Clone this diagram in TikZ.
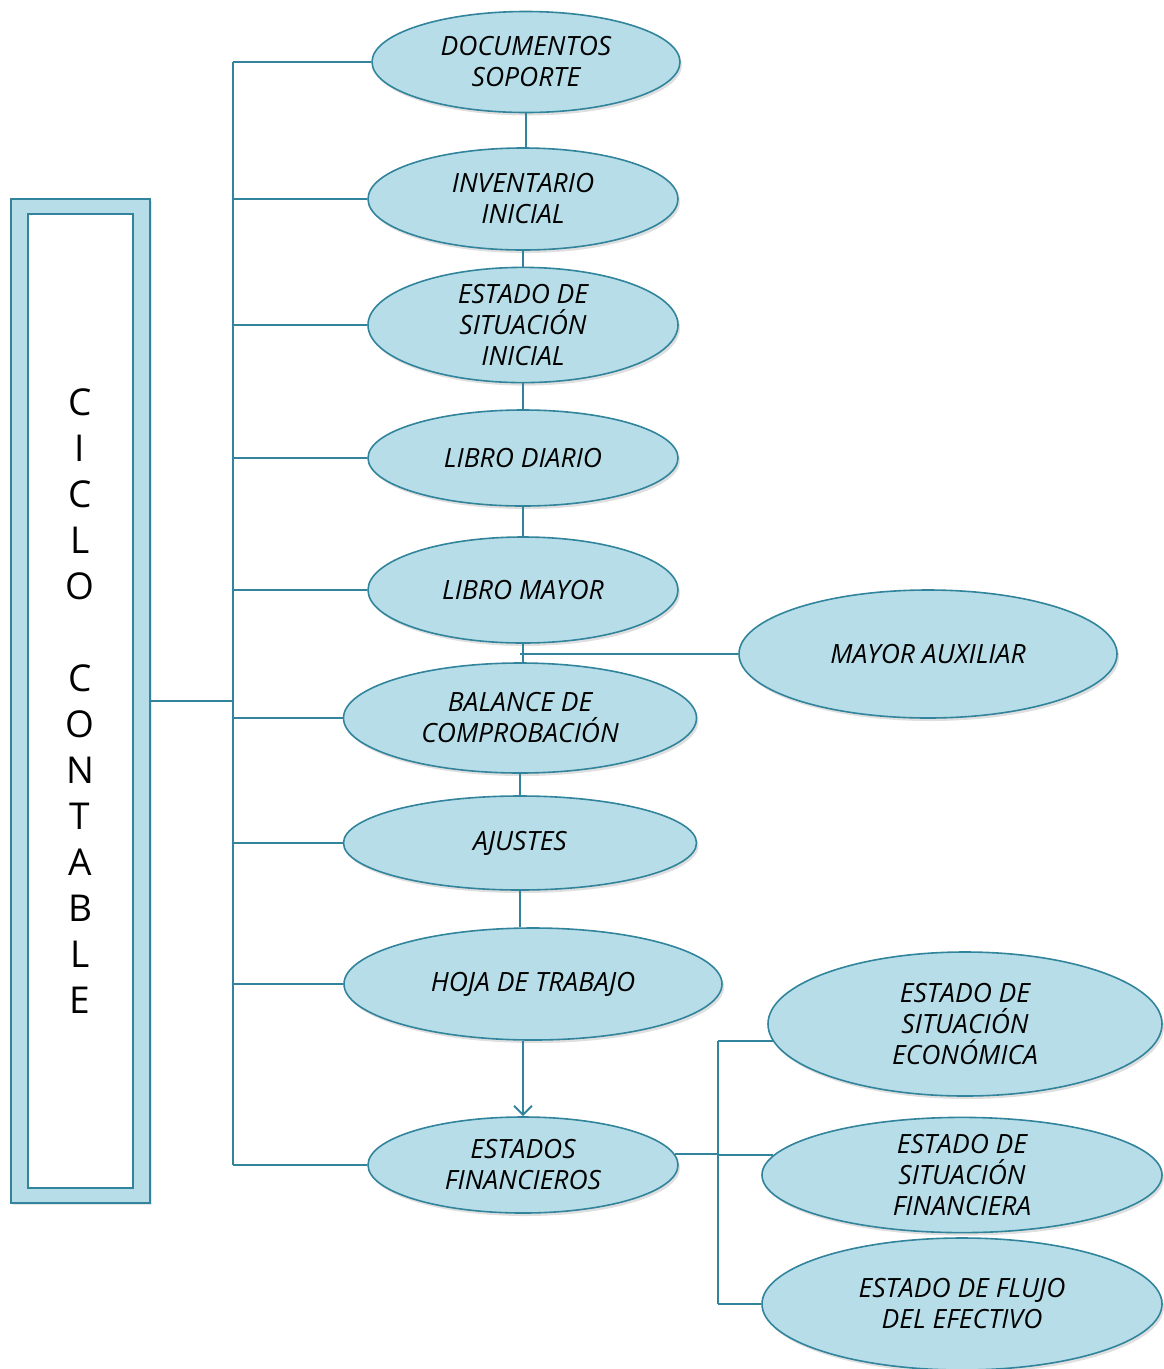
\documentclass[tikz,border=0pt]{standalone}
\usepackage{fontspec}
\setmainfont{Open Sans}
\usetikzlibrary{shapes.geometric,shadows,arrows.meta}
\definecolor{fillb}{RGB}{183,222,232}
\definecolor{lineb}{RGB}{49,132,155}
\begin{document}
\begin{tikzpicture}[x=1pt,y=-1pt,
  ov/.style={ellipse, draw=lineb, line width=1.6pt, fill=fillb, inner sep=0pt, align=center,
    font=\fontsize{26.5}{31}\selectfont\itshape,
    drop shadow={opacity=0.25, shadow xshift=2pt, shadow yshift=-3pt}},
  conn/.style={draw=lineb, line width=2.2pt},
  frame/.style={rectangle, draw=lineb, line width=2.2pt, inner sep=0pt}]
\useasboundingbox (0,0) rectangle (1164,1369);

% left frame
\node[frame, fill=fillb, minimum width=139, minimum height=1004,
      drop shadow={opacity=0.2, shadow xshift=2pt, shadow yshift=-2pt}] (box) at (80.5,701) {};
\node[frame, fill=white, minimum width=105, minimum height=974] (inner) at (80.5,701) {};
\node[align=center, font=\fontsize{37}{46}\selectfont] (title) at (80,701.5)
  {C\\I\\C\\L\\O\\[46pt]C\\O\\N\\T\\A\\B\\L\\E};

% main ellipses
\node[ov, minimum width=308, minimum height=101] (doc) at (526,62) {DOCUMENTOS\\SOPORTE};
\node[ov, minimum width=310, minimum height=102] (inv) at (523,199) {INVENTARIO\\INICIAL};
\node[ov, minimum width=310, minimum height=108] (esi) at (523,325) {ESTADO DE\\SITUACIÓN\\INICIAL};
\node[ov, minimum width=310, minimum height=96] (ld) at (523,458) {LIBRO DIARIO};
\node[ov, minimum width=310, minimum height=106] (lm) at (523,590) {LIBRO MAYOR};
\node[ov, minimum width=353, minimum height=110] (bal) at (520,718) {BALANCE DE\\COMPROBACIÓN};
\node[ov, minimum width=353, minimum height=94] (aj) at (520,843) {AJUSTES};
\node[ov, minimum width=378, minimum height=112] (hoja) at (533,984) {HOJA DE TRABAJO};
\node[ov, minimum width=310, minimum height=96] (ef) at (523,1165) {ESTADOS\\FINANCIEROS};

% side ellipses
\node[ov, minimum width=378, minimum height=128] (aux) at (928,654) {MAYOR AUXILIAR};
\node[ov, minimum width=394, minimum height=144] (eco) at (965,1024) {ESTADO DE\\SITUACIÓN\\ECONÓMICA};
\node[ov, minimum width=400, minimum height=114] (fin) at (962,1175) {ESTADO DE\\SITUACIÓN\\FINANCIERA};
\node[ov, minimum width=400, minimum height=132] (flu) at (962,1304) {ESTADO DE FLUJO\\DEL EFECTIVO};

% bus
\coordinate (bt) at (233,62);
\coordinate (bb) at (233,1165);
\draw[conn] (bt) -- (bb);
\draw[conn] (box.east) -- (box.east -| bt);
\foreach \n in {doc,inv,esi,ld,lm,bal,aj,hoja,ef}
  \draw[conn] (\n.west -| bt) -- (\n.west);

% chain
\draw[conn] (doc.south) -- (doc.south |- inv.north);
\draw[conn] (inv.south) -- (inv.south |- esi.north);
\draw[conn] (esi.south) -- (esi.south |- ld.north);
\draw[conn] (ld.south) -- (ld.south |- lm.north);
\draw[conn] (lm.south) -- (lm.south |- bal.north);
\draw[conn] (bal.south) -- (bal.south |- aj.north);
\draw[conn] (aj.south) -- (aj.south |- hoja.north);
\draw[conn, -{Straight Barb[length=9pt,width=18pt,line width=2pt]}] (ef.north |- hoja.south) -- (ef.north);

% mayor auxiliar
\coordinate (mj) at (520,654);
\draw[conn] (mj) -- (aux.west);

% right bracket
\coordinate (rt) at (718,1040);
\draw[conn] (ef.4) -- (ef.4 -| rt);
\draw[conn] (eco.185 -| rt) -- (flu.west -| rt);
\draw[conn] (eco.185 -| rt) -- (eco.185);
\draw[conn] (fin.174 -| rt) -- (fin.174);
\draw[conn] (flu.west -| rt) -- (flu.west);
\end{tikzpicture}
\end{document}
